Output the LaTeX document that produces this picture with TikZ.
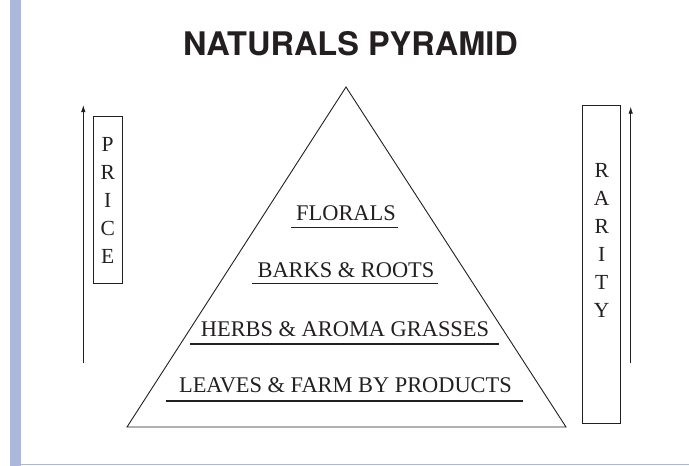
\documentclass[tikz,border=0pt]{standalone}
\usepackage{fontspec}
\setmainfont{Liberation Serif}
\newfontfamily\titlefont{TeX Gyre Heros}
\usetikzlibrary{arrows.meta}
\definecolor{ink}{HTML}{231F20}
\definecolor{barblue}{RGB}{171,184,218}
\tikzset{
  lbl/.style={inner sep=0pt, anchor=base, text=ink, font=\fontsize{22.4}{26}\selectfont},
  uline/.style={draw=ink, line width=1.3pt},
  tri/.style={draw=ink, line width=0.9pt},
  vbox/.style={draw=ink, line width=0.9pt, inner sep=0pt},
  letters/.style={inner sep=0pt, anchor=north, align=center, text=ink, font=\fontsize{21.5}{28}\selectfont},
  uparrow/.style={draw=ink, line width=0.9pt, -{Latex[length=7pt,width=4.5pt]}}
}
\begin{document}
\begin{tikzpicture}[x=1pt,y=-1pt]
\useasboundingbox (0,0) rectangle (689,466);
% frame
\fill[barblue] (10,0) rectangle (20.5,466);
\draw[barblue, line width=1.5pt] (20.5,464.5) -- (689,464.5);
% title
\node[inner sep=0pt, anchor=base, text=ink, font=\titlefont\bfseries\fontsize{32.5}{38}\selectfont] (title) at (350.5,55) {NATURALS PYRAMID};
% pyramid
\coordinate (apex) at (346,87);
\coordinate (bl) at (127,427);
\coordinate (br) at (566,427);
\draw[tri] (apex) -- (bl) -- (br) -- cycle;
\node[lbl] (flo) at (346,220) {FLORALS};
\node[lbl] (bar) at (346,277) {BARKS \& ROOTS};
\node[lbl] (her) at (345,336) {HERBS \& AROMA GRASSES};
\node[lbl] (lea) at (345.5,392) {LEAVES \& FARM BY PRODUCTS};
\draw[uline] (291,227.5) -- (398,227.5);
\draw[uline] (252,283.5) -- (438,283.5);
\draw[uline] (190,344) -- (499,344);
\draw[uline] (166,401) -- (523,401);
% price
\node[vbox, minimum width=28.7pt, minimum height=166.6pt] (pbox) at (107.7,200) {};
\node[letters] (ptext) at (107.7,137) {P\\R\\I\\C\\E};
\coordinate (p0) at (83.3,362.7);
\coordinate (p1) at (83.3,105);
\draw[uparrow] (p0) -- (p1);
% rarity
\node[vbox, minimum width=38pt, minimum height=318.3pt] (rbox) at (601.7,264.2) {};
\node[letters] (rtext) at (601.7,163) {R\\A\\R\\I\\T\\Y};
\coordinate (r0) at (630.7,363.3);
\coordinate (r1) at (630.7,106.7);
\draw[uparrow] (r0) -- (r1);
\end{tikzpicture}
\end{document}
